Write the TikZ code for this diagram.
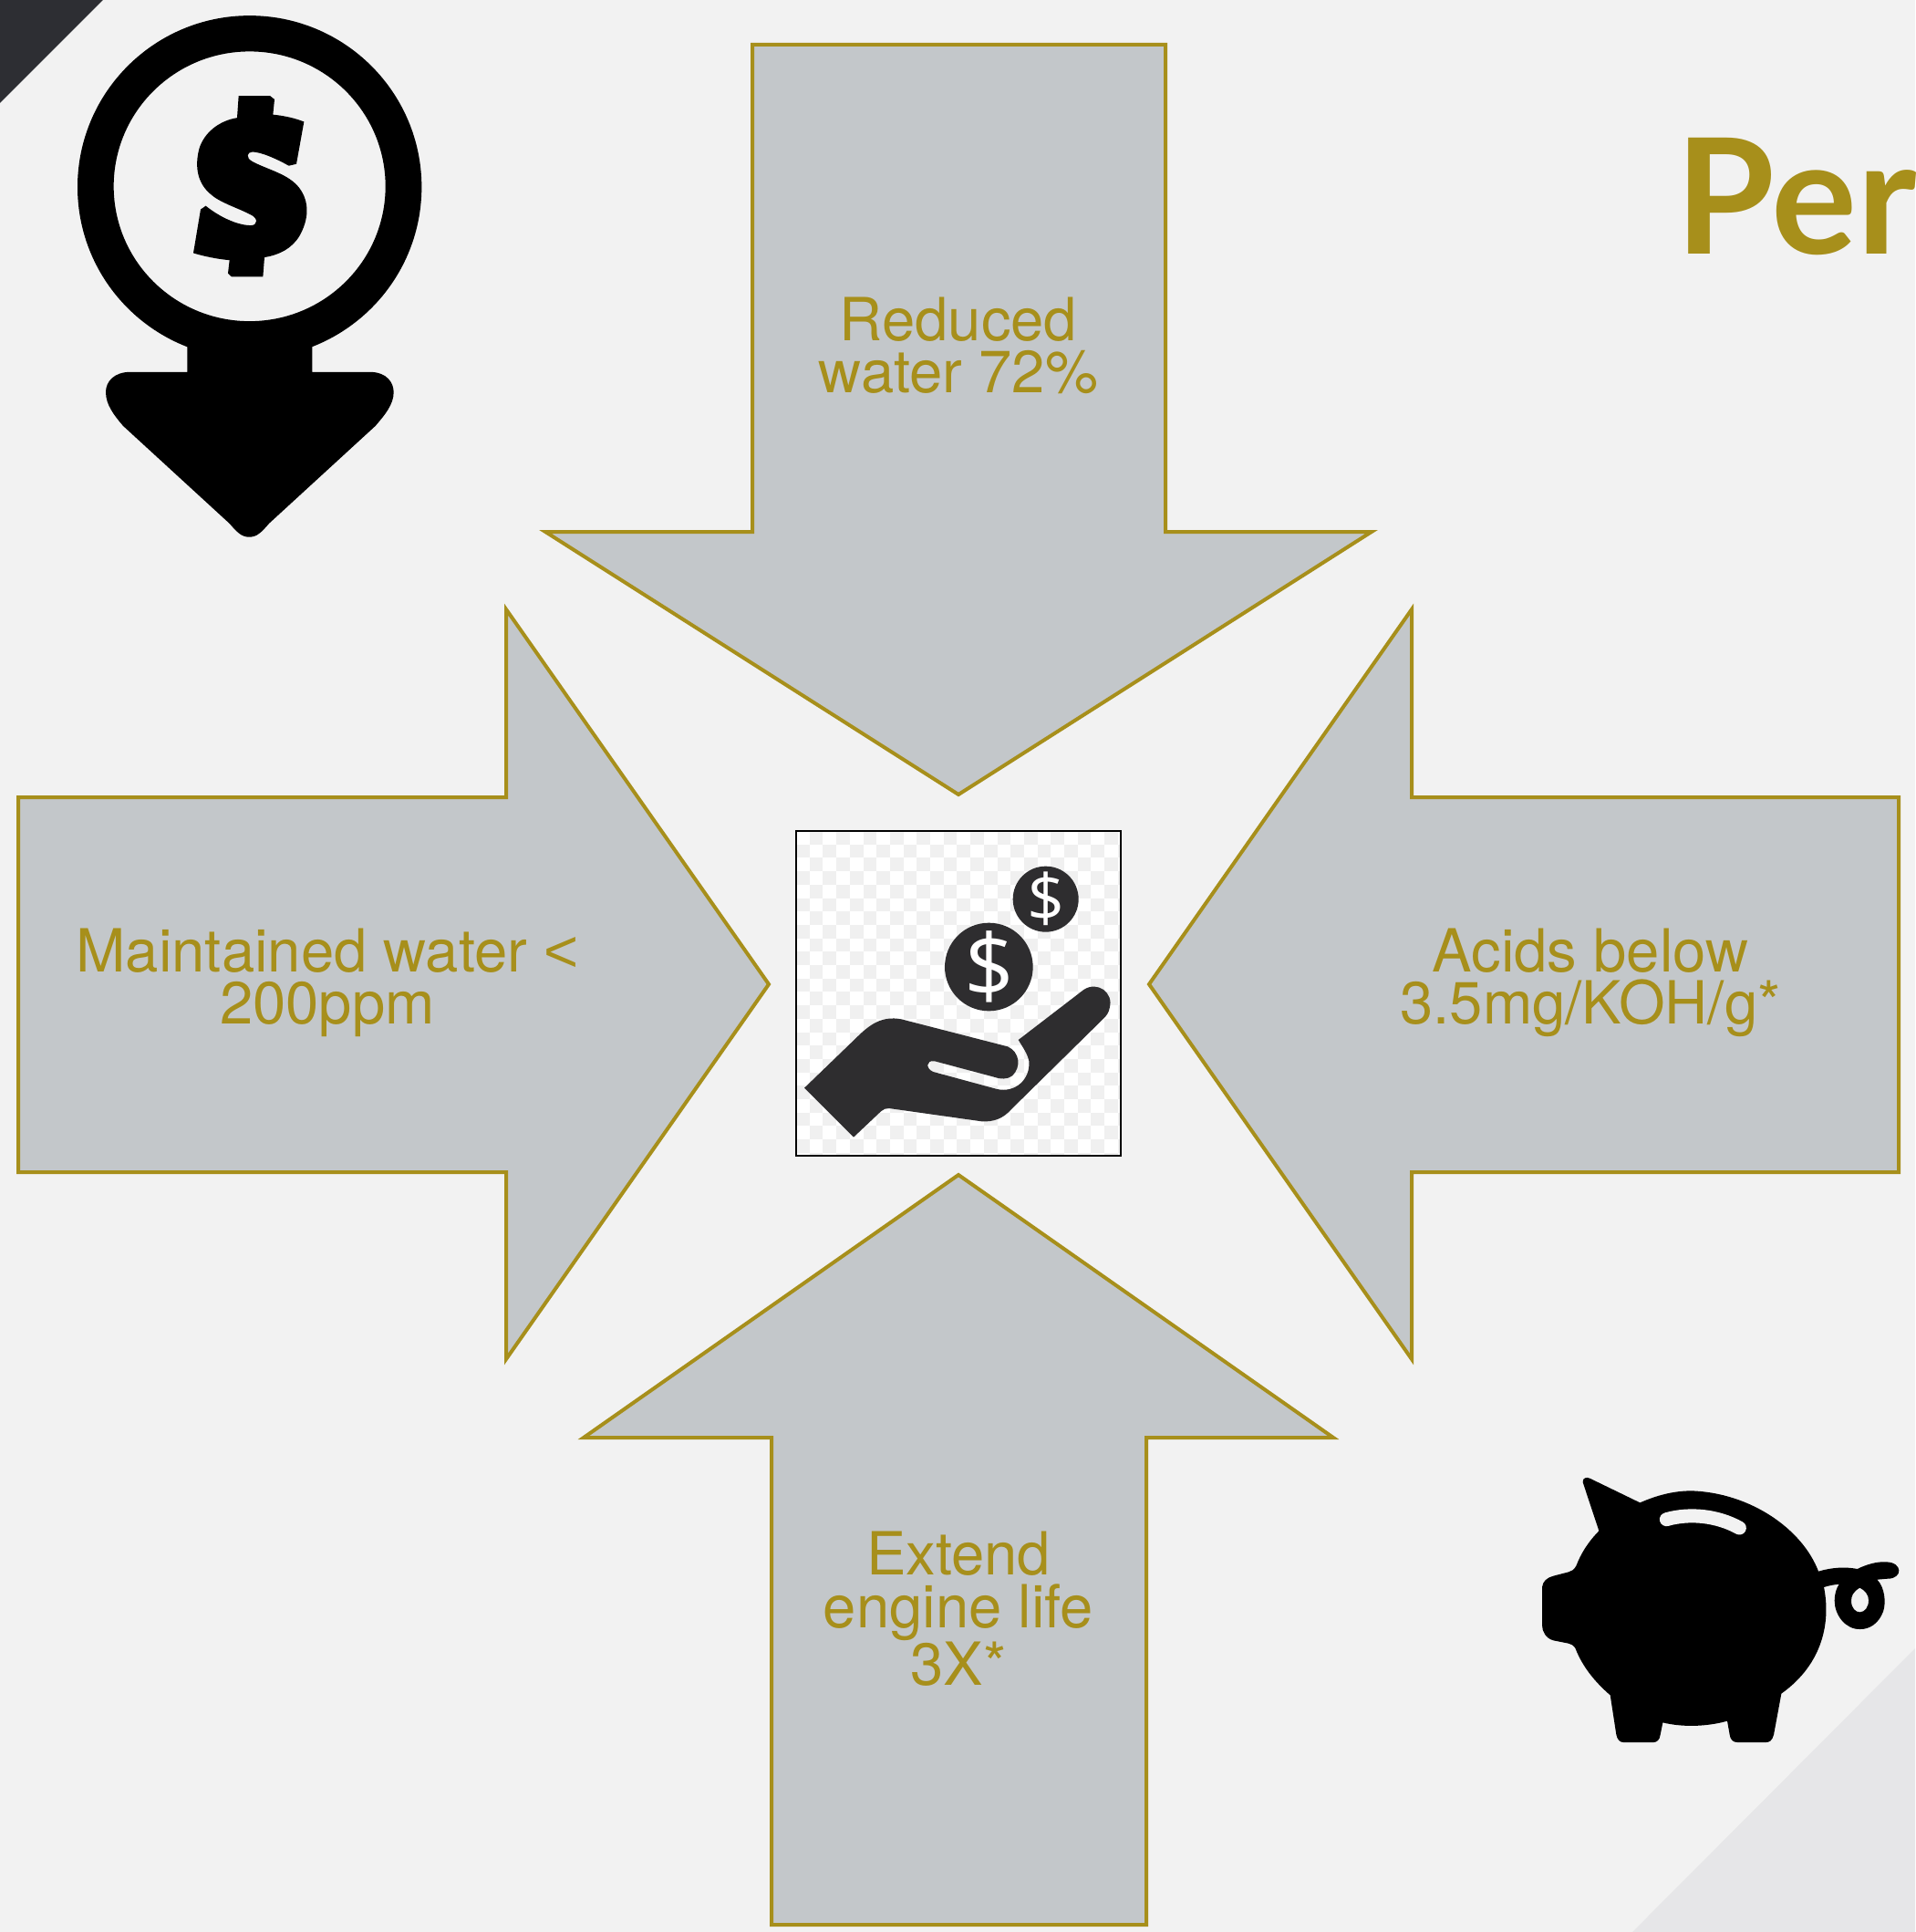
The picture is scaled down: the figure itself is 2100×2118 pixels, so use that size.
\documentclass[tikz,border=0pt]{standalone}
\usepackage{fontspec}
\setmainfont{TeX Gyre Heros}
\newfontfamily\latofont{Lato}
\newfontfamily\coinfont{Open Sans}
\newfontfamily\libfont{Liberation Sans}
\definecolor{bgc}{HTML}{F2F2F2}
\definecolor{gold}{HTML}{A78F1B}
\definecolor{arrowfill}{HTML}{C3C7CA}
\definecolor{darkc}{HTML}{2D2E33}
\definecolor{cornerc}{HTML}{E6E6E8}
\definecolor{handc}{HTML}{2E2D2F}
\definecolor{checkc}{HTML}{F0F0F0}
\tikzset{
  bigarrow/.style={draw=gold,fill=arrowfill,line width=2pt,miter limit=10},
  label/.style={text=gold,inner sep=0pt,align=center,font=\fontsize{32.6}{28.6}\selectfont},
  coin/.style={text=white,inner sep=0pt,font=\coinfont}
}
\begin{document}
\begin{tikzpicture}[x=0.5pt,y=-0.5pt]
\useasboundingbox (0,0) rectangle (2100,2118);
\fill[bgc] (0,0) rectangle (2100,2118);
\fill[darkc] (0,0) -- (113,0) -- (0,113) -- cycle;
\fill[cornerc] (2100,1807) -- (2100,2118) -- (1790,2118) -- cycle;

% arrows
\draw[bigarrow] (825,49) -- (1278,49) -- (1278,583) -- (1504,583) -- (1051,871) -- (598,583) -- (825,583) -- cycle;
\draw[bigarrow] (20,874) -- (555,874) -- (555,668) -- (843,1079) -- (555,1490) -- (555,1285) -- (20,1285) -- cycle;
\draw[bigarrow] (2082,874) -- (1548,874) -- (1548,668) -- (1260,1079) -- (1548,1490) -- (1548,1285) -- (2082,1285) -- cycle;
\draw[bigarrow] (846,2110) -- (1257,2110) -- (1257,1576) -- (1462,1576) -- (1051,1288) -- (640,1576) -- (846,1576) -- cycle;

% labels
\node[label] (top) at (1051,379) {Reduced\\water 72\%};
\node[label] (left) at (359,1077) {Maintained water {\libfont<}\\200ppm};
\node[label] (right) at (1744,1077) {Acids below\\3.5mg/KOH/g*};
\node[label] (bottom) at (1051,1764) {Extend\\engine life\\3X*};
\node[text=gold,inner sep=0pt,anchor=base west,font=\fontsize{88}{88}\selectfont\latofont\bfseries] (title) at (1837,279) {Per};

% coin-arrow icon
\begin{scope}[x=0.16667pt,y=-0.19455pt]
\fill[black,even odd rule] (821,527) ellipse[x radius=566,y radius=483] (821,525) ellipse[x radius=447,y radius=380];
\fill[black] (616,925) -- (1027,925) -- (1027,1048) -- (1215,1048) .. controls (1275,1048) and (1295,1080) .. (1295,1105) .. controls (1295,1140) and (1265,1170) .. (1235,1200) -- (885,1475) .. controls (860,1500) and (845,1513) .. (820,1513) .. controls (795,1513) and (780,1500) .. (755,1475) -- (405,1200) .. controls (375,1170) and (348,1140) .. (348,1105) .. controls (348,1075) and (375,1048) .. (430,1048) -- (616,1048) -- cycle;
\fill[black] (785,270) -- (888,270) -- (903,280) -- (898,323) .. controls (935,326) and (970,333) .. (1000,343) -- (975,462) -- (950,467) .. controls (915,450) and (860,428) .. (830,428) .. controls (812,428) and (808,445) .. (830,455) .. controls (880,478) and (950,490) .. (985,530) .. controls (1020,570) and (1015,620) .. (985,665) .. controls (960,700) and (920,718) .. (870,725) -- (865,780) -- (762,780) -- (750,770) -- (755,733) .. controls (715,730) and (670,722) .. (636,713) -- (660,590) -- (677,580) .. controls (720,610) and (780,635) .. (825,635) .. controls (848,635) and (850,615) .. (825,605) .. controls (780,585) and (720,570) .. (690,545) .. controls (650,515) and (640,470) .. (655,420) .. controls (670,375) and (720,340) .. (780,332) -- cycle;
\end{scope}

% central picture
\begin{scope}
\clip (873,911) rectangle (1229,1267);
\fill[white] (873,911) rectangle (1229,1267);
\foreach \i in {0,...,24}{\foreach \j in {0,...,24}{
  \pgfmathparse{int(mod(\i+\j,2))}
  \ifnum\pgfmathresult=1
    \fill[checkc] ({873+\i*14.7},{911+\j*14.7}) rectangle ++(14.7,14.7);
  \fi
}}
\end{scope}
\draw[black,line width=0.8pt] (873,911) rectangle (1229,1267);
\begin{scope}[shift={(860,900)},x=0.16667pt,y=-0.16667pt]
\fill[handc] (66,878) -- (235,715) .. controls (280,670) and (320,640) .. (385,652) -- (735,742) .. controls (775,760) and (780,810) .. (750,838) .. controls (735,850) and (710,850) .. (690,842) -- (495,790) .. controls (465,785) and (465,815) .. (490,825) -- (700,882) .. controls (760,895) and (810,850) .. (805,790) .. controls (800,765) and (785,745) .. (770,720) -- (985,555) .. controls (1030,525) and (1085,565) .. (1070,615) .. controls (1068,630) and (1060,640) .. (1050,650) -- (745,950) .. controls (720,978) and (690,990) .. (650,988) -- (345,945) .. controls (335,945) and (325,947) .. (318,955) -- (228,1040) -- cycle;
\fill[handc] (673,480) circle[radius=145];
\fill[handc] (860,257) circle[radius=108];
\node[coin,font=\fontsize{48}{48}\selectfont\coinfont] (coinbig) at (675,480) {\$};
\node[coin,font=\fontsize{36}{36}\selectfont\coinfont] (coinsmall) at (860,257) {\$};
\end{scope}

% piggy bank
\begin{scope}[shift={(1670,1600)},x=0.16667pt,y=-0.16667pt]
\fill[black,even odd rule] (197,75) .. controls (195,60) and (210,57) .. (220,62) -- (385,142) .. controls (440,118) and (495,103) .. (555,103) .. controls (750,110) and (920,230) .. (972,368) .. controls (1015,355) and (1060,352) .. (1100,360) .. controls (1130,345) and (1165,335) .. (1195,337) .. controls (1250,338) and (1250,392) .. (1200,392) -- (1165,395) .. controls (1190,420) and (1195,470) .. (1185,500) .. controls (1170,540) and (1140,558) .. (1110,558) .. controls (1060,560) and (1025,510) .. (1025,465) .. controls (1025,440) and (1032,422) .. (1040,410) .. controls (1020,412) and (1005,415) .. (990,420) .. controls (1012,530) and (990,670) .. (850,770) -- (825,905) .. controls (820,925) and (810,930) .. (800,930) -- (705,930) .. controls (690,930) and (682,920) .. (680,905) -- (672,860) .. controls (600,880) and (520,880) .. (460,865) -- (452,905) .. controls (450,922) and (440,930) .. (430,930) -- (330,930) .. controls (318,930) and (310,920) .. (307,905) -- (287,775) .. controls (235,730) and (195,680) .. (172,620) .. controls (165,610) and (158,607) .. (150,605) -- (100,595) .. controls (75,588) and (63,565) .. (63,545) -- (63,420) .. controls (65,400) and (80,388) .. (100,383) -- (150,370) .. controls (160,368) and (168,362) .. (175,350) .. controls (190,310) and (215,270) .. (250,235) -- cycle
(1108,422) .. controls (1085,435) and (1080,450) .. (1080,465) .. controls (1080,490) and (1095,502) .. (1108,502) .. controls (1125,502) and (1137,485) .. (1137,463) .. controls (1137,445) and (1125,430) .. (1108,422) -- cycle;
\draw[bgc,line width=7.5pt,line cap=round] (472,197) .. controls (550,175) and (640,185) .. (712,225);
\end{scope}
\end{tikzpicture}
\end{document}
